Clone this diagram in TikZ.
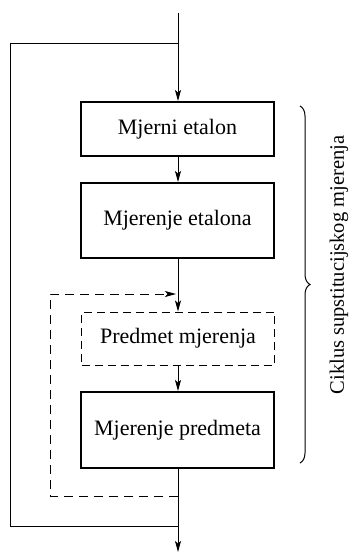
\documentclass[tikz,border=0pt]{standalone}
\usepackage{fontspec}
\setmainfont{Liberation Serif}
\usetikzlibrary{arrows.meta,decorations.pathreplacing}
\begin{document}
\begin{tikzpicture}[x=1pt,y=-1pt,
  conn/.style={line width=1pt,-{Stealth[length=11pt,width=6pt,inset=2.5pt]}},
  plain/.style={line width=1pt},
  box/.style={draw,line width=2pt,minimum width=193pt,inner sep=0pt,font=\fontsize{22}{24}\selectfont},
  dbox/.style={draw,line width=1pt,dash pattern=on 8pt off 5pt,minimum width=193pt,inner sep=0pt,font=\fontsize{22}{24}\selectfont},
  dline/.style={line width=1pt,dash pattern=on 9pt off 6pt}]
\useasboundingbox (0,0) rectangle (353,552);
\node[box,minimum height=54pt] (b1) at (177.5,129) {Mjerni etalon};
\node[box,minimum height=75pt] (b2) at (177.5,220.5) {Mjerenje etalona};
\node[dbox,minimum height=53pt] (b3) at (178,338.5) {Predmet mjerenja};
\node[box,minimum height=76pt] (b4) at (177.5,430) {Mjerenje predmeta};
\coordinate (top) at (178,13);
\coordinate (jt) at (178,43);
\coordinate (jb) at (178,526);
\coordinate (ol) at (10,526);
\coordinate (end) at (178,552);
\coordinate (db) at (178,496);
\coordinate (dl) at (50,496);
\coordinate (da) at (176,294);
\draw[conn] (top) -- (b1.north -| top);
\draw[conn] (b1.south -| top) -- (b2.north -| top);
\draw[conn] (b2.south -| top) -- (b3.north -| top);
\draw[conn] (b3.south -| top) -- (b4.north -| top);
\draw[conn] (b4.south -| top) -- (end);
\draw[plain] (jb) -- (ol) |- (jt);
\draw[dline,-{Stealth[length=11pt,width=6pt,inset=2.5pt]}] (db) -- (dl) |- (da);
\draw[line width=1pt,decorate,decoration={brace,amplitude=10pt}] (300,106) -- (300,463);
\node[rotate=90,font=\fontsize{20.5}{24}\selectfont,inner sep=0pt] (lab) at (339,265) {Ciklus supstitucijskog mjerenja};
\end{tikzpicture}
\end{document}
